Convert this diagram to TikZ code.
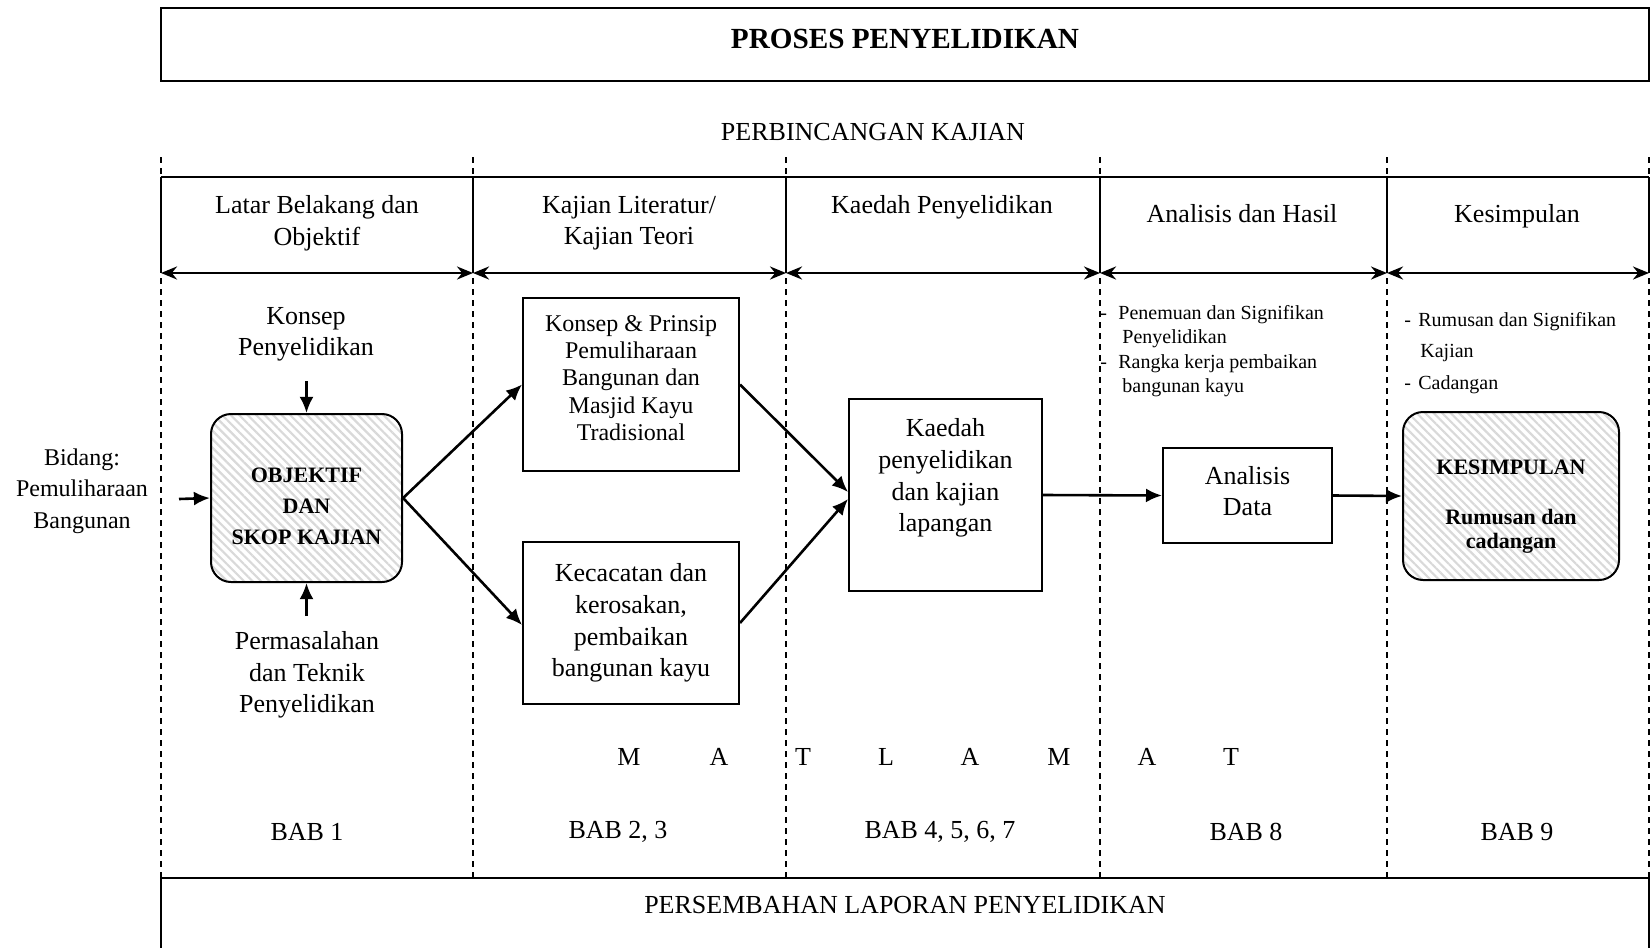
\documentclass[tikz,border=0pt]{standalone}
\usepackage{fontspec}
\setmainfont{Liberation Serif}
\usetikzlibrary{arrows.meta,patterns.meta}

\begin{document}
\begin{tikzpicture}[x=0.5pt,y=-0.5pt,>={Latex[length=8pt,width=7pt]},
  txt/.style={align=center,font=\fontsize{13}{15.8}\selectfont},
  small/.style={align=left,inner sep=0pt,anchor=west,font=\fontsize{10}{12.2}\selectfont},
  box/.style={draw,line width=1pt,rectangle,align=center},
  hatch/.style={draw,line width=1pt,rounded corners=10pt,
    pattern={Lines[angle=-45,distance=3pt,line width=1.1pt]},pattern color=black!15},
  tebal/.style={align=center,font=\bfseries\fontsize{11}{15.5}\selectfont},
  flow/.style={->,line width=1.3pt},
  span/.style={{Stealth[length=8pt,width=6.5pt]}-{Stealth[length=8pt,width=6.5pt]},line width=1.3pt},
  sep/.style={line width=0.9pt,dash pattern=on 3pt off 2.5pt}]
\useasboundingbox (0,0) rectangle (1650,948);

\draw[line width=1pt] (161,8) rectangle (1649,81);
\node(proses)[font=\bfseries\fontsize{14.6}{17}\selectfont] at (905,39) {PROSES PENYELIDIKAN};
\node(perbincangan)[txt] at (873,132) {PERBINCANGAN KAJIAN};

\foreach \x in {161,473,786,1100,1387,1649}
  \draw[sep] (\x,157) -- (\x,878);
\draw[line width=1pt] (161,177) -- (1649,177);
\foreach \x in {161,473,786,1100,1387,1649}
  \draw[line width=1pt] (\x,177) -- (\x,273);

\coordinate(h0) at (161,273);
\coordinate(h1) at (473,273);
\coordinate(h2) at (786,273);
\coordinate(h3) at (1100,273);
\coordinate(h4) at (1387,273);
\coordinate(h5) at (1649,273);
\draw[span] (h0) -- (h1);
\draw[span] (h1) -- (h2);
\draw[span] (h2) -- (h3);
\draw[span] (h3) -- (h4);
\draw[span] (h4) -- (h5);

\node(head1)[txt] at (317,223) {Latar Belakang dan\\Objektif};
\node(head2)[txt] at (629,223) {Kajian Literatur/\\Kajian Teori};
\node(head3)[txt] at (942,207) {Kaedah Penyelidikan};
\node(head4)[txt] at (1242,214) {Analisis dan Hasil};
\node(head5)[txt] at (1517,216) {Kesimpulan};

\node(bidang)[txt, font=\fontsize{12}{15.8}\selectfont] at (82,491) {Bidang:\\Pemuliharaan\\Bangunan};
\node(konsep)[txt, font=\fontsize{13}{15.3}\selectfont] at (306,334) {Konsep\\Penyelidikan};
\node(masalah)[txt] at (307,675) {Permasalahan\\dan Teknik\\Penyelidikan};

\node(objektif)[hatch, minimum width=95.5pt, minimum height=84pt] at (306.5,498) {};
\node(objektiftxt)[tebal] at (306.5,506.5) {OBJEKTIF\\DAN\\SKOP KAJIAN};
\coordinate(inkiri) at (179,499);
\coordinate(inatas) at (306.5,381);
\coordinate(inbawah) at (306.5,616);
\draw[flow] (inkiri) -- (objektif.west);
\draw[flow] (inatas) -- (objektif.north);
\draw[flow] (inbawah) -- (objektif.south);

\node(prinsip)[box, minimum width=108pt, minimum height=86.5pt] at (631,384.5) {};
\node(prinsiptxt)[txt, font=\fontsize{12}{13.7}\selectfont] at (631,378)
  {Konsep \& Prinsip\\Pemuliharaan\\Bangunan dan\\Masjid Kayu\\Tradisional};
\node(kecacatan)[box, minimum width=108pt, minimum height=81pt, txt] at (631,623)
  {Kecacatan dan\\kerosakan,\\pembaikan\\bangunan kayu};
\draw[flow] (objektif.east) -- (prinsip.west);
\draw[flow] (objektif.east) -- ([yshift=-1pt]kecacatan.west);

\node(kaedah)[box, minimum width=96.5pt, minimum height=96pt] at (945.5,495) {};
\node(kaedahtxt)[txt] at (945.5,478) {Kaedah\\penyelidikan\\dan kajian\\lapangan};
\draw[flow] (prinsip.east) -- ([yshift=1.5pt]kaedah.west);
\draw[flow] (kecacatan.east) -- ([yshift=-2pt]kaedah.west);

\node(analisis)[box, minimum width=84.5pt, minimum height=47.5pt] at (1247.5,495.5) {};
\node(analisistxt)[txt] at (1247.5,491) {Analisis\\Data};
\draw[flow] (kaedah.east) -- (analisis.west);

\node(hasil)[small] at (1100,351)
  {\makebox[9pt][l]{-}Penemuan dan Signifikan\\\hspace*{11pt}Penyelidikan\\\makebox[9pt][l]{-}Rangka kerja pembaikan\\\hspace*{11pt}bangunan kayu};
\node(rumusan)[small, font=\fontsize{10}{15.8}\selectfont] at (1404,353)
  {\makebox[7pt][l]{-}Rumusan dan Signifikan\\\hspace*{8pt}Kajian\\\makebox[7pt][l]{-}Cadangan};

\node(kesimpulan)[hatch, minimum width=108pt, minimum height=84pt] at (1511,496) {};
\node(kesimpulantxt)[align=center, font=\bfseries\fontsize{11}{12}\selectfont] at (1511,506.5)
  {KESIMPULAN\\[13pt]Rumusan dan\\cadangan};
\draw[flow] (analisis.east) -- (kesimpulan.west);

\foreach \l/\x [count=\i] in {M/629,A/719,T/803,L/886,A/970,M/1059,A/1147,T/1231}
  \node(mat\i)[txt] at (\x,757) {\l};

\node(bab1)[txt] at (307,832) {BAB 1};
\node(bab2)[txt] at (618,832) {BAB 2, 3};
\node(bab3)[txt] at (940,832) {BAB 4, 5, 6, 7};
\node(bab4)[txt] at (1246,832) {BAB 8};
\node(bab5)[txt] at (1517,832) {BAB 9};

\draw[line width=1pt] (161,960) -- (161,878) -- (1649,878) -- (1649,960);
\node(laporan)[txt] at (905,905) {PERSEMBAHAN LAPORAN PENYELIDIKAN};
\end{tikzpicture}
\end{document}
